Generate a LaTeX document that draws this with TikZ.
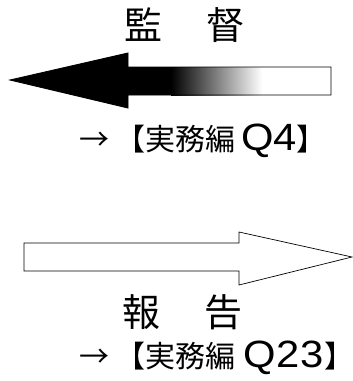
\documentclass[tikz,border=0pt]{standalone}
\usepackage{fontspec}
\newfontfamily\jp{Noto Sans CJK JP}
\newfontfamily\lat[FakeStretch=1.1]{Liberation Sans}
\newcommand{\qlat}[1]{{\lat\fontsize{38}{38}\selectfont #1}}
\begin{document}
\begin{tikzpicture}[x=1pt,y=-1pt,
  outline/.style={draw=black,line width=0.9pt,line join=miter},
  title/.style={font=\jp\fontsize{38}{38}\selectfont,inner sep=0pt,anchor=west},
  ref/.style={font=\jp\fontsize{30}{30}\selectfont,inner sep=0pt,anchor=west}]
\useasboundingbox (0,0) rectangle (353,381);
% top arrow (pointing left), black fading to white
\fill[black] (10,80) -- (128,53) -- (128,67) -- (172,67) -- (172,95) -- (128,95) -- (128,108) -- cycle;
\shade[left color=black,right color=white] (171,67) rectangle (262,95);
\fill[white] (261.5,67) rectangle (331,95);
\draw[outline] (10,80) -- (128,53) -- (128,67) -- (331,67) -- (331,95) -- (128,95) -- (128,108) -- cycle;
% bottom arrow (pointing right), outlined
\draw[outline,line width=0.7pt] (24,243) -- (239,243) -- (239,232) -- (352,257) -- (239,285) -- (239,271) -- (24,271) -- cycle;
% texts
\node[title] (kantoku) at (124,25) {監\hspace{44pt}督};
\node[ref] (ref1) at (79,141) {→\hspace{6pt}【実務編\hspace{6pt}\qlat{Q4}】};
\node[ref] (ref2) at (79,358) {→\hspace{6pt}【実務編\hspace{8pt}\qlat{Q\kern1pt2\kern1pt3}】};
\node[title] (houkoku) at (122,312) {報\hspace{44pt}告};
\end{tikzpicture}
\end{document}
